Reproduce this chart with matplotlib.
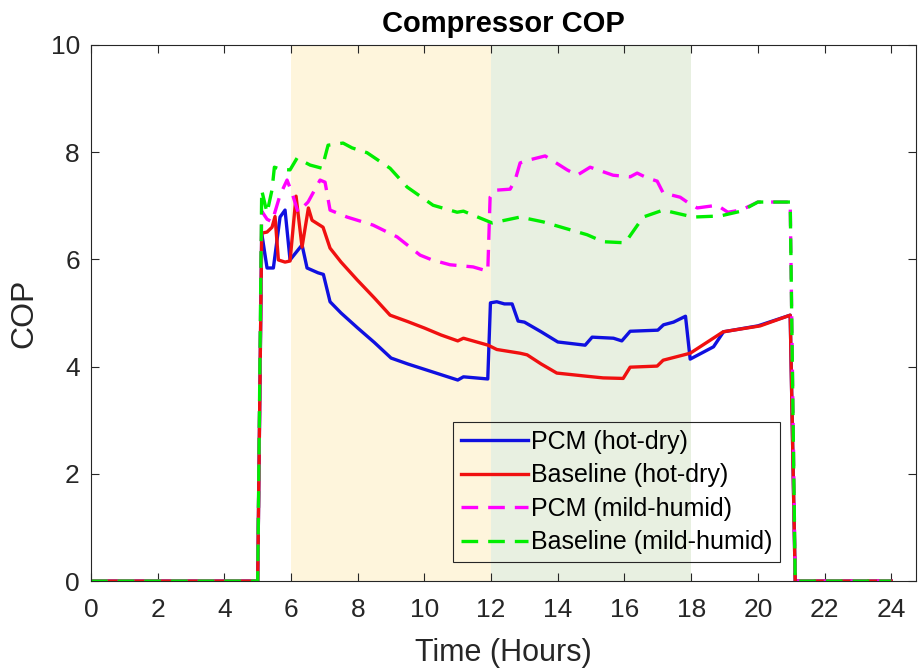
import matplotlib.pyplot as plt
import numpy as np

plt.rcParams['font.family'] = ['Liberation Sans', 'DejaVu Sans']

# hours / COP
t_pcm_hd = [0, 5.0, 5.12, 5.28, 5.47, 5.67, 5.82, 5.97, 6.33, 6.48, 6.81, 6.97, 7.17, 7.5, 8.0, 8.5,
            9.0, 9.5, 10.0, 10.5, 11.0, 11.17, 11.9, 11.98, 12.17, 12.4, 12.63, 12.81, 13.0, 13.5,
            14.0, 14.82, 15.03, 15.67, 15.92, 16.17, 17.0, 17.17, 17.47, 17.83, 17.97, 18.67,
            18.97, 20.0, 20.97, 21.12, 24]
cop_pcm_hd = [0, 0, 6.49, 5.84, 5.84, 6.79, 6.92, 5.99, 6.27, 5.84, 5.75, 5.72, 5.21, 5.0, 4.72, 4.45,
              4.16, 4.05, 3.95, 3.85, 3.75, 3.81, 3.77, 5.19, 5.21, 5.17, 5.17, 4.85, 4.83, 4.65,
              4.46, 4.40, 4.55, 4.53, 4.48, 4.66, 4.68, 4.78, 4.83, 4.94, 4.14, 4.37,
              4.65, 4.76, 4.96, 0, 0]

t_base_hd = [0, 5.0, 5.12, 5.28, 5.43, 5.52, 5.62, 5.82, 5.97, 6.15, 6.33, 6.52, 6.63, 6.96, 7.17,
             7.5, 7.98, 8.5, 8.97, 9.5, 10.0, 10.5, 11.0, 11.17, 11.91, 12.17, 12.87, 13.08, 13.5,
             13.97, 14.88, 15.36, 15.96, 16.17, 16.98, 17.16, 17.97, 18.96, 20.07, 20.97, 21.12, 24]
cop_base_hd = [0, 0, 6.49, 6.51, 6.6, 6.8, 5.99, 5.95, 5.97, 7.18, 6.23, 6.96, 6.73, 6.6, 6.21,
               5.95, 5.62, 5.28, 4.96, 4.84, 4.72, 4.59, 4.48, 4.53, 4.40, 4.32, 4.25, 4.22, 4.05,
               3.88, 3.82, 3.79, 3.78, 3.99, 4.01, 4.12, 4.25, 4.65, 4.76, 4.96, 0, 0]

t_pcm_mh = [0, 5.0, 5.12, 5.28, 5.43, 5.67, 5.88, 6.03, 6.21, 6.51, 6.87, 7.02, 7.17, 7.68, 8.46,
            9.18, 9.87, 10.23, 10.77, 11.46, 11.9, 11.97, 12.12, 12.57, 12.72, 12.87, 13.11, 13.62,
            14.28, 14.58, 14.97, 15.66, 16.17, 16.38, 16.68, 16.98, 17.16, 17.67, 17.88, 18.18,
            18.78, 19.1, 19.5, 20.0, 20.97, 21.12, 24]
cop_pcm_mh = [0, 0, 6.9, 6.75, 6.7, 7.2, 7.48, 7.24, 6.88, 7.07, 7.48, 7.44, 6.92, 6.79, 6.64,
              6.42, 6.08, 5.99, 5.9, 5.86, 5.78, 7.16, 7.29, 7.31, 7.48, 7.80, 7.85, 7.93,
              7.67, 7.57, 7.72, 7.57, 7.54, 7.61, 7.52, 7.46, 7.24, 7.16, 7.07, 6.96,
              7.01, 6.88, 6.92, 7.07, 7.07, 0, 0]

t_base_mh = [0, 5.0, 5.12, 5.28, 5.43, 5.5, 5.7, 5.97, 6.18, 6.57, 6.93, 7.11, 7.56, 7.83, 8.28,
             8.97, 9.48, 10.26, 10.98, 11.17, 12.03, 12.87, 13.56, 14.88, 15.36, 16.02, 16.56,
             17.16, 18.06, 18.87, 19.5, 20.0, 20.97, 21.12, 24]
cop_base_mh = [0, 0, 7.29, 6.87, 7.3, 7.72, 7.68, 7.67, 7.89, 7.76, 7.70, 8.13, 8.17, 8.08, 7.99,
               7.70, 7.35, 7.01, 6.88, 6.9, 6.68, 6.79, 6.70, 6.46, 6.33, 6.31, 6.79,
               6.92, 6.79, 6.81, 6.9, 7.07, 7.07, 0, 0]

fig = plt.figure(figsize=(9.19, 6.71), dpi=100)
ax = fig.add_axes([0.099, 0.134, 0.898, 0.799])

ax.axvspan(6, 12, color='#fef5dc', lw=0, zorder=0)
ax.axvspan(12, 18, color='#e8f0e1', lw=0, zorder=0)

lw = 2.4
ax.plot(t_pcm_hd, cop_pcm_hd, color='#1010e0', lw=lw, label='PCM (hot-dry)')
ax.plot(t_base_hd, cop_base_hd, color='#f01010', lw=lw, label='Baseline (hot-dry)')
ax.plot(t_pcm_mh, cop_pcm_mh, color='#ff00ff', lw=lw, ls=(0, (5, 3)), label='PCM (mild-humid)')
ax.plot(t_base_mh, cop_base_mh, color='#00ee00', lw=lw, ls=(0, (5, 3)), label='Baseline (mild-humid)')

ax.set_xlim(0, 24.75)
ax.set_ylim(0, 10)
ax.set_xticks(np.arange(0, 25, 2))
ax.set_yticks(np.arange(0, 11, 2))
ax.tick_params(direction='in', top=True, right=True, labelsize=19, colors='#262626',
               length=6, width=0.8)
ax.tick_params(axis='x', pad=12)
ax.tick_params(axis='y', pad=8)
for s in ax.spines.values():
    s.set_color('#262626')
    s.set_linewidth(0.8)

ax.set_xlabel('Time (Hours)', fontsize=22, color='#262626', labelpad=12)
ax.set_ylabel('COP', fontsize=23, color='#262626', labelpad=8)
ax.set_title('Compressor COP', fontsize=21, fontweight='bold', pad=9)

leg = ax.legend(loc='lower left', bbox_to_anchor=(0.439, 0.036), borderaxespad=0,
                fontsize=18, handlelength=2.7, handletextpad=0.1, labelspacing=0.38,
                borderpad=0.3, fancybox=False, edgecolor='#262626', facecolor='none',
                framealpha=1)
leg.get_frame().set_linewidth(0.8)

fig.savefig('out.png', dpi=100)
